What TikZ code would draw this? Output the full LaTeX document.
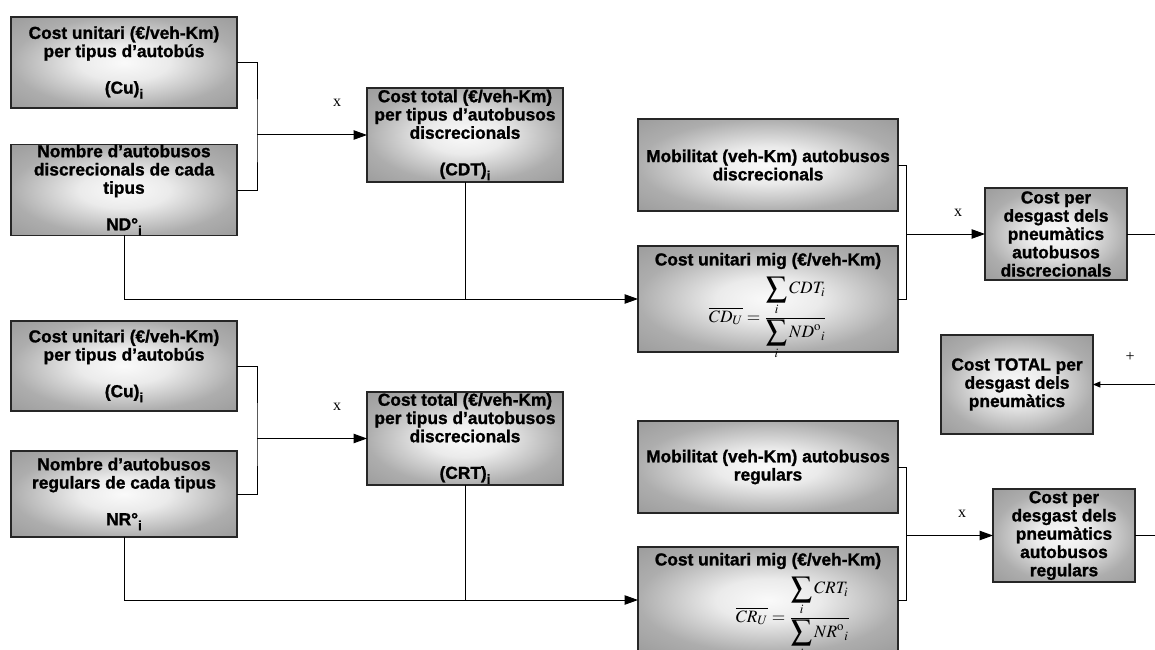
\documentclass[tikz,border=0pt]{standalone}
\usepackage{mathptmx}
\usepackage{fontspec}
\newfontfamily\labelfont{Liberation Sans}[BoldFeatures={FakeBold=1.2}]
\newfontfamily\signfont{Liberation Serif}
\usetikzlibrary{arrows.meta}
% enlarged summation sign with its index set underneath
\newcommand\bsum{\mathop{\vcenter{\hbox{\scalebox{1.2}{$\displaystyle\sum$}}}}\limits}
% lowered bold index after a symbol
\newcommand\idx{\raisebox{-0.55ex}{\fontsize{10}{10}\selectfont i}}
% soft elliptical glow used to fill every box
\pgfdeclareradialshading{boxglow}{\pgfpointorigin}{%
  color(0bp)=(black!2); color(10bp)=(black!8); color(25bp)=(black!32); color(50bp)=(black!48)}

\begin{document}
\begin{tikzpicture}[x=0.75pt,y=-0.75pt,
  box/.style={draw=black!85, line width=0.8pt, shading=boxglow,
    align=center, inner sep=0pt, outer sep=0pt,
    font=\labelfont\bfseries\fontsize{13}{13.7}\selectfont},
  sz/.style 2 args={minimum width=#1*0.75pt, minimum height=#2*0.75pt},
  wire/.style={line width=0.75pt, black},
  feed/.style={wire, -{Triangle[length=10pt,width=7pt]}},
  smallfeed/.style={wire, -{Triangle[length=5.5pt,width=4.5pt]}},
  sign/.style={font=\signfont\fontsize{12}{13}\selectfont, inner sep=0pt},
  title/.style={align=center, inner sep=0pt, font=\labelfont\bfseries\fontsize{13}{13.7}\selectfont},
  eqn/.style={inner sep=0pt, font=\fontsize{13}{15}\selectfont}
]
\clip (0,0) rectangle (1155,649);

% ---- discretionary buses ----
\node[box, sz={226}{91}] (cu1) at (124,62.5) {Cost unitari (€/veh-Km)\\per tipus d’autobús\\ \mbox{}\\(Cu)\idx};
\node[box, sz={226}{86}] (nd) at (124,190) {Nombre d’autobusos\\discrecionals de cada\\tipus\\ \mbox{}\\ND°\idx};
\node[box, sz={196}{94}] (cdt) at (465,135) {Cost total (€/veh-Km)\\per tipus d’autobusos\\discrecionals\\ \mbox{}\\(CDT)\idx};
\node[box, sz={260}{92}] (mobd) at (768,165) {Mobilitat (veh-Km) autobusos\\discrecionals};
\node[box, sz={260}{106}] (cmd) at (768,299) {};
\node[title] (cmdtitle) at (768,261) {Cost unitari mig (€/veh-Km)};
\node[eqn] (cmdeq) at (768,318) {$\displaystyle \overline{CD_U} = \frac{\displaystyle\bsum_i CDT_i}{\displaystyle\bsum_i ND^{\mathrm{o}}{}_i}$};
\node[box, sz={142}{92}] (desd) at (1056,234) {Cost per\\desgast dels\\pneumàtics\\autobusos\\discrecionals};

% ---- total ----
\node[box, sz={152}{99}] (total) at (1017,384.5) {Cost TOTAL per\\desgast dels\\pneumàtics};

% ---- regular buses ----
\node[box, sz={226}{90}] (cu2) at (124,366) {Cost unitari (€/veh-Km)\\per tipus d’autobús\\ \mbox{}\\(Cu)\idx};
\node[box, sz={226}{86}] (nr) at (124,494) {Nombre d’autobusos\\regulars de cada tipus\\ \mbox{}\\NR°\idx};
\node[box, sz={196}{93}] (crt) at (465,438.5) {Cost total (€/veh-Km)\\per tipus d’autobusos\\discrecionals\\ \mbox{}\\(CRT)\idx};
\node[box, sz={260}{92}] (mobr) at (768,467) {Mobilitat (veh-Km) autobusos\\regulars};
\node[box, sz={260}{106}] (cmr) at (768,600) {};
\node[title] (cmrtitle) at (768,561) {Cost unitari mig (€/veh-Km)};
\node[eqn] (cmreq) at (793,618) {$\displaystyle \overline{CR_U} = \frac{\displaystyle\bsum_i CRT_i}{\displaystyle\bsum_i NR^{\mathrm{o}}{}_i}$};
\node[box, sz={142}{93}] (desr) at (1064,535.5) {Cost per\\desgast dels\\pneumàtics\\autobusos\\regulars};

% ---- junctions and free ends ----
\coordinate (j1) at (257,135);
\coordinate (j2) at (906,234);
\coordinate (j3) at (257,438.5);
\coordinate (j4) at (906,535.5);
\coordinate (o1) at (1155,234);
\coordinate (o2) at (1155,535.5);
\coordinate (i1) at (1155,384.5);

% ---- connectors ----
\draw[wire] (cu1.east) -| (j1) |- (nd.east);
\draw[feed] (j1) -- (cdt.west);
\draw[feed] (nd.south) |- (cmd.west);
\draw[wire] (cdt.south) -- (cdt.south |- cmd.west);
\draw[wire] (mobd.east) -| (j2) |- (cmd.east);
\draw[feed] (j2) -- (desd.west);
\draw[wire] (desd.east) -- (o1);

\draw[wire] (cu2.east) -| (j3) |- (nr.east);
\draw[feed] (j3) -- (crt.west);
\draw[feed] (nr.south) |- (cmr.west);
\draw[wire] (crt.south) -- (crt.south |- cmr.west);
\draw[wire] (mobr.east) -| (j4) |- (cmr.east);
\draw[feed] (j4) -- (desr.west);
\draw[wire] (desr.east) -- (o2);

\draw[smallfeed] (i1) -- (total.east);

% ---- operation signs ----
\node[sign] (m1) at (337,103) {x};
\node[sign] (m2) at (337,407) {x};
\node[sign] (m3) at (958,213) {x};
\node[sign] (m4) at (962,514) {x};
\node[sign] (p1) at (1130,357) {+};
\end{tikzpicture}
\end{document}
